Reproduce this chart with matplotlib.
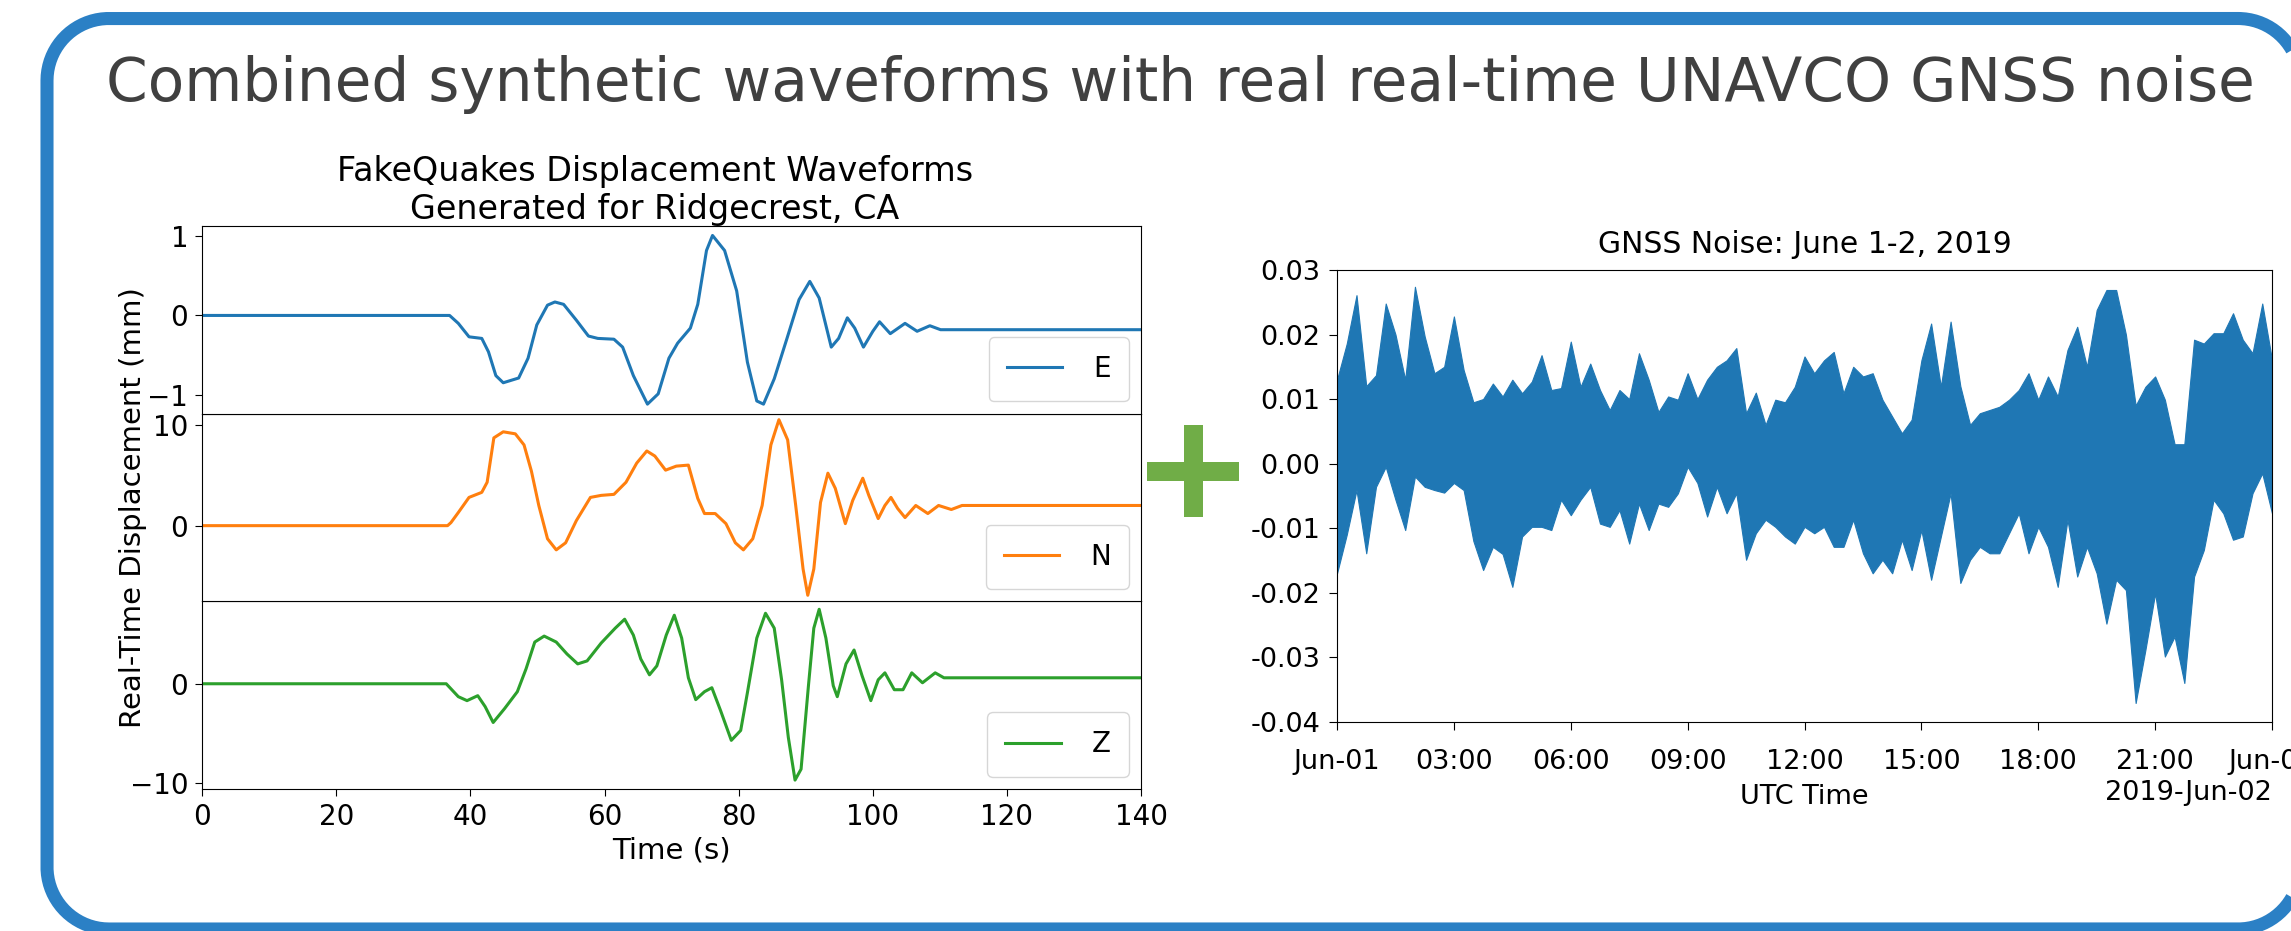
import numpy as np
import matplotlib
matplotlib.use('Agg')
import matplotlib.pyplot as plt
import matplotlib.dates as mdates
from matplotlib.patches import Rectangle
from matplotlib.ticker import FormatStrFormatter

# FakeQuakes synthetic displacement waveforms (mm) for Ridgecrest
t_e = [0, 36.9, 38.2, 39.8, 41.7, 42.7, 43.8, 44.9, 47.2, 48.6,
       49.9, 51.5, 52.6, 53.9, 55.8, 57.6, 59.0, 61.4, 62.7, 64.3,
       66.4, 68.0, 69.6, 70.9, 72.8, 73.9, 75.2, 76.1, 77.9, 79.7,
       81.3, 82.7, 83.7, 85.3, 87.2, 89.0, 90.6, 92.0, 93.8, 94.9,
       96.2, 97.3, 98.6, 100.0, 101.0, 102.6, 104.8, 106.6, 108.5, 110.1,
       140]
disp_e = [0, 0, -0.10, -0.27, -0.29, -0.46, -0.76, -0.85, -0.79, -0.54,
          -0.12, 0.13, 0.17, 0.14, -0.06, -0.26, -0.29, -0.30, -0.40, -0.76,
          -1.12, -0.99, -0.54, -0.35, -0.16, 0.14, 0.82, 1.01, 0.82, 0.31,
          -0.59, -1.08, -1.12, -0.80, -0.29, 0.20, 0.43, 0.22, -0.40, -0.29,
          -0.03, -0.16, -0.40, -0.20, -0.08, -0.23, -0.10, -0.20, -0.13, -0.18,
          -0.18]

t_n = [0, 36.6, 37.1, 38.2, 39.8, 41.7, 42.5, 43.5, 44.9, 46.7,
       48.0, 49.1, 50.2, 51.5, 52.8, 54.2, 55.8, 57.9, 59.5, 61.4,
       63.2, 64.8, 66.3, 67.5, 69.1, 70.7, 72.5, 73.9, 74.9, 76.5,
       78.1, 79.5, 80.7, 82.1, 83.5, 84.8, 86.0, 87.3, 88.5, 89.6,
       90.3, 91.2, 92.2, 93.3, 94.4, 95.9, 97.0, 98.5, 99.4, 100.8,
       101.8, 102.7, 103.7, 104.8, 106.4, 108.2, 109.8, 111.7, 113.3, 140]
disp_n = [0, 0, 0.3, 1.3, 2.8, 3.3, 4.3, 8.7, 9.3, 9.1,
          8.0, 5.4, 2.0, -1.3, -2.4, -1.7, 0.5, 2.8, 3.0, 3.1,
          4.3, 6.2, 7.4, 6.9, 5.5, 5.9, 6.0, 2.7, 1.2, 1.2,
          0.2, -1.7, -2.4, -1.3, 2.0, 8.0, 10.5, 8.5, 2.0, -4.3,
          -6.9, -4.3, 2.3, 5.2, 3.7, 0.2, 2.5, 4.7, 3.0, 0.7,
          2.0, 2.8, 1.7, 0.8, 2.0, 1.2, 2.0, 1.6, 2.0, 2.0]

t_z = [0, 36.4, 38.2, 39.5, 41.1, 42.2, 43.4, 45.1, 47.0, 48.3,
       49.6, 51.0, 52.8, 54.4, 56.0, 57.4, 59.5, 61.6, 63.0, 64.3,
       65.4, 66.7, 67.8, 69.2, 70.4, 71.5, 72.5, 73.6, 74.9, 76.0,
       77.3, 78.9, 80.3, 81.3, 82.7, 84.0, 85.3, 86.4, 87.4, 88.4,
       89.3, 90.4, 91.2, 92.0, 93.0, 94.1, 94.7, 96.0, 97.2, 98.4,
       99.7, 100.8, 101.8, 103.2, 104.5, 105.8, 107.4, 109.3, 110.6, 112.5,
       140]
disp_z = [0, 0, -1.3, -1.7, -1.2, -2.3, -3.9, -2.5, -0.8, 1.5,
          4.2, 4.8, 4.2, 3.0, 2.0, 2.3, 4.1, 5.6, 6.5, 4.9,
          2.5, 0.9, 1.8, 4.9, 6.9, 4.6, 0.6, -1.6, -0.8, -0.4,
          -2.7, -5.7, -4.7, -0.9, 4.6, 7.1, 5.6, 0.4, -5.4, -9.7,
          -8.6, -0.2, 5.6, 7.5, 4.6, -0.2, -1.3, 2.0, 3.4, 0.8,
          -1.7, 0.4, 1.1, -0.6, -0.6, 1.1, 0.1, 1.1, 0.6, 0.6,
          0.6]

# GNSS noise, June 1-2 2019: high / low of each 15 minute block (m)
noise_hours = np.arange(0, 24.01, 0.25)
noise_hi = np.array([
    1.30, 1.86, 2.61, 1.20, 1.37, 2.48, 2.00, 1.30, 2.74, 1.97, 1.40, 1.50,
    2.28, 1.45, 0.95, 1.00, 1.24, 1.04, 1.30, 1.09, 1.27, 1.68, 1.14, 1.17,
    1.89, 1.19, 1.55, 1.14, 0.83, 1.14, 1.00, 1.71, 1.30, 0.80, 1.04, 0.99,
    1.40, 1.00, 1.30, 1.50, 1.60, 1.79, 0.78, 1.10, 0.60, 0.99, 0.95, 1.19,
    1.66, 1.40, 1.60, 1.73, 1.09, 1.50, 1.35, 1.40, 0.99, 0.73, 0.47, 0.68,
    1.60, 2.17, 1.19, 2.20, 1.20, 0.60, 0.78, 0.83, 0.88, 0.99, 1.14, 1.40,
    0.99, 1.35, 1.04, 1.76, 2.12, 1.50, 2.38, 2.69, 2.69, 2.00, 0.90, 1.19,
    1.35, 0.99, 0.30, 0.30, 1.92, 1.86, 2.02, 2.02, 2.33, 1.92, 1.71, 2.48,
    1.61]) * 0.01
noise_lo = np.array([
    -1.70, -1.10, -0.41, -1.39, -0.36, -0.05, -0.56, -1.03, -0.20, -0.36, -0.41, -0.45,
    -0.30, -0.41, -1.20, -1.65, -1.29, -1.40, -1.91, -1.13, -0.98, -0.98, -1.03, -0.56,
    -0.80, -0.56, -0.36, -0.93, -0.98, -0.72, -1.24, -0.62, -1.03, -0.62, -0.67, -0.46,
    -0.05, -0.30, -0.82, -0.36, -0.77, -0.46, -1.49, -1.08, -0.87, -0.98, -1.13, -1.24,
    -0.98, -1.08, -0.98, -1.29, -1.29, -0.87, -1.39, -1.70, -1.49, -1.70, -1.18, -1.65,
    -1.03, -1.80, -1.13, -0.46, -1.85, -1.49, -1.29, -1.39, -1.39, -1.08, -0.77, -1.39,
    -0.98, -1.29, -1.91, -0.87, -1.75, -1.29, -1.70, -2.48, -1.80, -1.96, -3.71, -2.89,
    -2.01, -2.99, -2.68, -3.40, -1.75, -1.34, -0.56, -0.77, -1.18, -1.13, -0.46, -0.15,
    -0.77]) * 0.01
noise_start = np.datetime64('2019-06-01T00:00')
noise_time = noise_start + (noise_hours * 60).astype('timedelta64[m]')

W, H = 2291, 931
fig = plt.figure(figsize=(W / 100, H / 100), dpi=100)


def frame_outline(x0, y0, x1, y1, r, n=40):
    # rounded box in pixel coords (y down); the right side is left open
    a = np.linspace(0, np.pi / 2, n)
    corners = [((x1 - r, y0 + r), a),
               ((x0 + r, y0 + r), a + np.pi / 2),
               ((x0 + r, y1 - r), a + np.pi),
               ((x1 - r, y1 - r), a + 3 * np.pi / 2)]
    xs, ys = [], []
    for (cx, cy), ang in corners:
        xs.extend(cx + r * np.cos(ang))
        ys.extend(cy - r * np.sin(ang))
    xs, ys = np.array(xs), np.array(ys)
    keep = xs <= W + 2
    return xs[keep], ys[keep]


# background layer in pixel units: rounded frame and the plus sign
bg = fig.add_axes([0, 0, 1, 1], zorder=-1)
bg.set_xlim(0, W)
bg.set_ylim(H, 0)
bg.axis('off')
fx, fy = frame_outline(47, 18.5, 2300, 929, 62)
bg.plot(fx, fy, color='#2b80c5', lw=9.4, solid_capstyle='butt')
bg.add_patch(Rectangle((1193 - 46, 471 - 9.5), 92, 19, color='#70ad47', lw=0))
bg.add_patch(Rectangle((1193 - 9.5, 471 - 46), 19, 92, color='#70ad47', lw=0))

fig.text(1180 / W, 1 - 85 / H,
         'Combined synthetic waveforms with real real-time UNAVCO GNSS noise',
         fontsize=43, color='#404040', ha='center', va='center')

# left panel: three stacked components
left, width = 0.0882, 0.4099
bottom0, height = 0.1525, 0.2016
ax_z = fig.add_axes([left, bottom0, width, height])
ax_n = fig.add_axes([left, bottom0 + height, width, height], sharex=ax_z)
ax_e = fig.add_axes([left, bottom0 + 2 * height, width, height], sharex=ax_z)

comps = [(ax_e, t_e, disp_e, 'C0', 'E', (-1.24, 1.13), [-1, 0, 1]),
         (ax_n, t_n, disp_n, 'C1', 'N', (-7.5, 11.1), [0, 10]),
         (ax_z, t_z, disp_z, 'C2', 'Z', (-10.6, 8.3), [-10, 0])]
for ax, t, d, c, lab, yl, yt in comps:
    ax.plot(t, d, color=c, lw=2.2, label=lab)
    ax.set_ylim(yl)
    ax.set_yticks(yt)
    ax.tick_params(labelsize=20, length=5, pad=5)
    ax.legend(loc='lower right', fontsize=20, borderpad=0.65,
              handletextpad=1.1, borderaxespad=0.45)
for ax in (ax_e, ax_n):
    ax.tick_params(axis='x', length=0, labelbottom=False)

ax_z.set_xlim(0, 140)
ax_z.set_xticks(range(0, 141, 20))
ax_z.set_xlabel('Time (s)', fontsize=21)
ax_n.set_ylabel('Real-Time Displacement (mm)', fontsize=21)
ax_e.set_title('FakeQuakes Displacement Waveforms\nGenerated for Ridgecrest, CA',
               fontsize=24, x=0.482, pad=5)

# right panel: GNSS noise
ax_r = fig.add_axes([0.5836, 0.2248, 0.4081, 0.4852])
ax_r.fill_between(noise_time, noise_lo, noise_hi, color='C0', lw=0.8)
ax_r.set_ylim(-0.04, 0.03)
ax_r.set_xlim(noise_start, noise_start + np.timedelta64(24, 'h'))
ax_r.yaxis.set_major_formatter(FormatStrFormatter('%.2f'))
loc = mdates.HourLocator(byhour=range(0, 24, 3))
ax_r.xaxis.set_major_locator(loc)
ax_r.xaxis.set_major_formatter(mdates.ConciseDateFormatter(loc))
ax_r.tick_params(labelsize=19.5, length=6, pad=6)
ax_r.tick_params(axis='x', pad=14)
ax_r.xaxis.get_offset_text().set_fontsize(19.5)
ax_r.set_xlabel('UTC Time', fontsize=19.5, labelpad=6)
ax_r.set_title('GNSS Noise: June 1-2, 2019', fontsize=21.5, pad=12)

fig.savefig('out.png', dpi=100)
